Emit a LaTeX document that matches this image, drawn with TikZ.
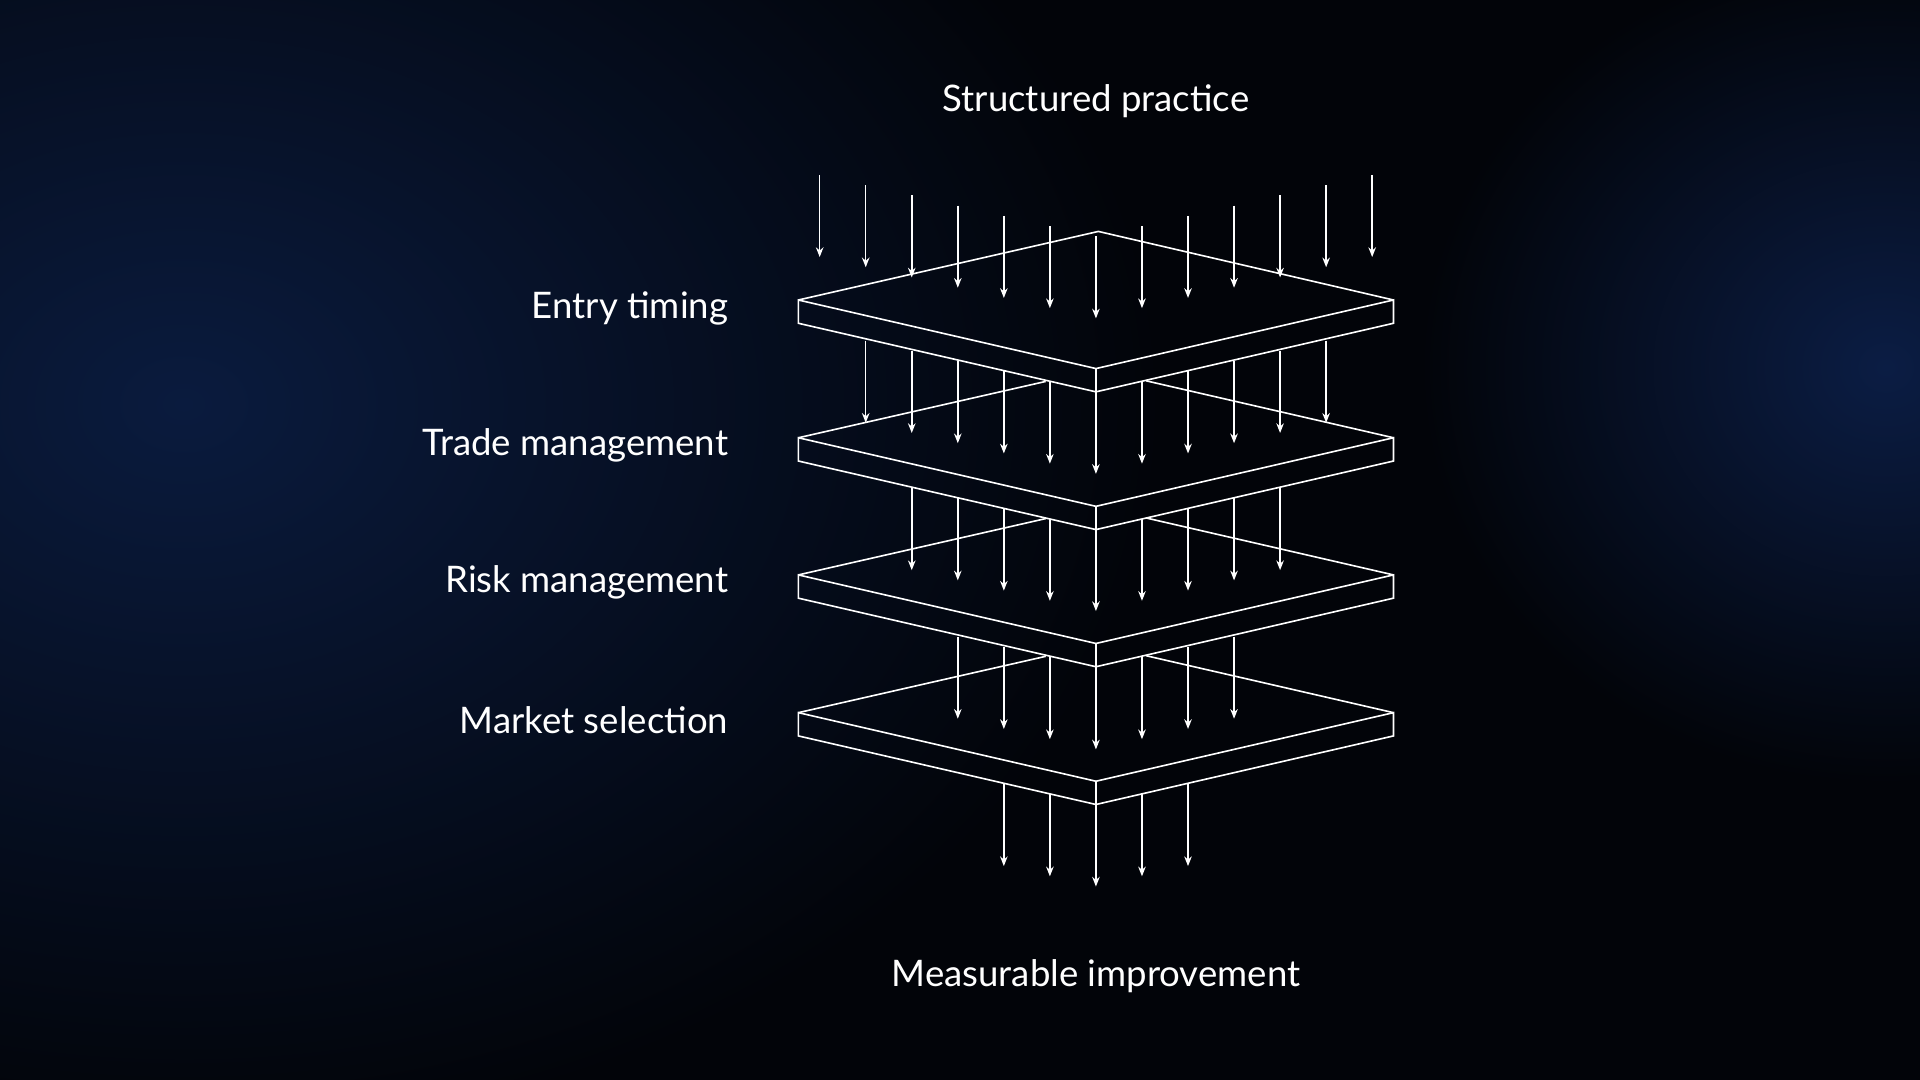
\documentclass[tikz,border=0pt]{standalone}
\usepackage{fontspec}
\setmainfont{Lato}
\usetikzlibrary{arrows.meta}
\definecolor{bg}{HTML}{020409}
\definecolor{navy}{HTML}{0A1B3E}
\definecolor{navyr}{HTML}{0B1D44}
\begin{document}
\begin{tikzpicture}[x=0.02cm,y=-0.02cm,
  edge/.style={white,line width=0.75pt,line join=miter},
  arr/.style={white,line width=0.7pt,-{Stealth[length=4.5pt,width=3.5pt]}},
  lbl/.style={text=white,font=\fontsize{17}{19}\selectfont,inner sep=0pt}]
\fill[bg] (0,0) rectangle (1568,882);
\useasboundingbox (0,0) rectangle (1568,882);
\begin{scope}
\clip (0,0) rectangle (1568,882);
\shade[inner color=navy, outer color=bg] (150,330) ellipse (800 and 600);
\shade[inner color=navyr, outer color=bg] (1540,300) ellipse (380 and 340);
\end{scope}
% plates
\foreach \k/\y in {0/245,1/357.5,2/469.5,3/582}{
  \coordinate (L\k) at (652,\y);
  \coordinate (B\k) at (897,\y-56);
  \coordinate (R\k) at (1138,\y);
  \coordinate (F\k) at (895,\y+56);
  \coordinate (Ld\k) at (652,\y+19);
  \coordinate (Fd\k) at (895,\y+75);
  \coordinate (Rd\k) at (1138,\y+19);
  \coordinate (IL\k) at (854,\y-46);
  \coordinate (IR\k) at (936,\y-46.5);
  \draw[edge] (L\k) -- (F\k) -- (R\k) -- (Rd\k) -- (Fd\k) -- (Ld\k) -- cycle;
  \draw[edge] (F\k) -- (Fd\k);
}
\draw[edge] (L0) -- (B0) -- (R0);
\foreach \k in {1,2,3}{
  \draw[edge] (L\k) -- (IL\k);
  \draw[edge] (R\k) -- (IR\k);
}
% arrows
\foreach \k/\c/\n in {0/193/6,1/320/5,2/432/4,3/545/3,4/657/2}{
  \foreach \j in {-\n,...,\n}{
    \pgfmathsetmacro{\xx}{895+37.6*\j}
    \pgfmathsetmacro{\ys}{\c-8.35*abs(\j)}
    \coordinate (s\k\j) at (\xx,\ys);
    \coordinate (e\k\j) at (\xx,\ys+67);
    \draw[arr] (s\k\j) -- (e\k\j);
  }
}
% labels
\node[lbl,anchor=east] (t1) at (595,252) {Entry timing};
\node[lbl,anchor=east] (t2) at (595,364) {Trade management};
\node[lbl,anchor=east] (t3) at (595,476) {Risk management};
\node[lbl,anchor=east] (t4) at (595,588) {Market selection};
\node[lbl] (top) at (895,83) {Structured practice};
\node[lbl] (bot) at (895,797) {Measurable improvement};
\end{tikzpicture}
\end{document}
